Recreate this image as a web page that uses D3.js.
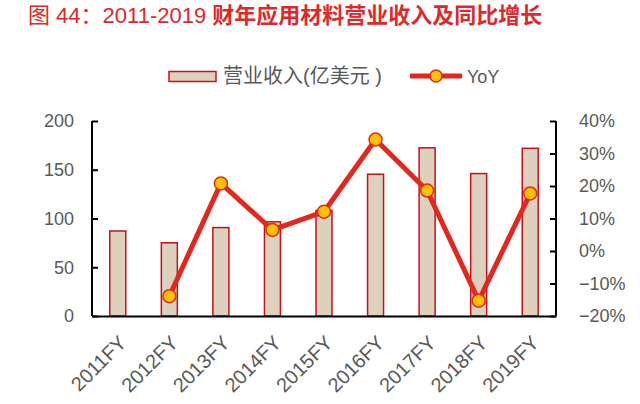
<!DOCTYPE html>
<html>
<head>
<meta charset="utf-8">
<script src="https://cdn.jsdelivr.net/npm/d3@7"></script>
<style>
    body { margin: 0; background: #fff; }
    svg { display: block; }
</style>
</head>
<body>
<div class="chart"></div>
<script>
// values
const years = ['2011FY', '2012FY', '2013FY', '2014FY', '2015FY', '2016FY', '2017FY', '2018FY', '2019FY'];
const revenue = [87.2, 75.1, 90.7, 96.6, 108.3, 145.4, 172.5, 146.1, 172.0];
const yoy = [null, -0.139, 0.208, 0.065, 0.121, 0.343, 0.186, -0.153, 0.177];
const leftTicks = [0, 50, 100, 150, 200];
const rightTicks = [-0.2, -0.1, 0, 0.1, 0.2, 0.3, 0.4];

const width = 640, height = 404;
const fontFamily = '"Liberation Sans", Arial, sans-serif';
const cjkFont = '"Liberation Sans", "Noto Sans CJK SC", sans-serif';
const gray = '#595959';

function draw_chart() {
    let svg = d3.select('.chart')
        .append('svg')
        .attr('width', width)
        .attr('height', height);

    let left = 92, right = 556, top = 121, bottom = 316;

    let x = d3.scaleBand()
        .domain(years)
        .range([left, right])
        .paddingInner(0.69)
        .paddingOuter(0.345);

    let y = d3.scaleLinear().domain([0, 200]).range([bottom, top]);
    let y2 = d3.scaleLinear().domain([-0.2, 0.4]).range([bottom, top]);

    // title
    let title = svg.append('text')
        .attr('x', 28)
        .attr('y', 23)
        .attr('fill', '#e0282a')
        .attr('font-size', 22)
        .attr('font-family', cjkFont);
    title.append('tspan').text('图 44：2011-2019 ');
    title.append('tspan').attr('font-weight', 'bold').text('财年应用材料营业收入及同比增长');

    // bars
    svg.append('g')
        .selectAll('rect')
        .data(revenue)
        .join('rect')
        .attr('x', (d, i) => x(years[i]))
        .attr('y', d => y(d))
        .attr('width', x.bandwidth())
        .attr('height', d => y(0) - y(d))
        .attr('fill', '#ddd1bd')
        .attr('stroke', '#c8101a')
        .attr('stroke-width', 1.5);

    // axes
    let axisL = svg.append('g')
        .attr('transform', `translate(${left},0)`)
        .call(d3.axisLeft(y).tickValues(leftTicks).tickSize(-6).tickPadding(18));
    let axisR = svg.append('g')
        .attr('transform', `translate(${right},0)`)
        .call(d3.axisRight(y2).tickValues(rightTicks).tickSize(-6).tickPadding(23)
            .tickFormat(d3.format('.0%')));
    let axisB = svg.append('g')
        .attr('transform', `translate(0,${bottom})`)
        .call(d3.axisBottom(x).tickSize(0).tickPadding(0));

    [axisL, axisR, axisB].forEach(a => {
        a.select('.domain').attr('stroke', '#000').attr('stroke-width', 2);
        a.selectAll('.tick line').attr('stroke', '#000').attr('stroke-width', 2);
        a.selectAll('text')
            .attr('fill', gray)
            .attr('font-size', 18)
            .attr('font-family', fontFamily);
    });
    axisL.select('.domain').attr('d', `M0,${top}V${bottom}`);
    axisR.select('.domain').attr('d', `M0,${top}V${bottom}`);

    axisB.selectAll('.tick text')
        .attr('font-size', 20)
        .attr('text-anchor', 'end')
        .attr('dy', 0)
        .attr('transform', 'translate(10,28) rotate(-45)');

    // YoY line
    let pts = yoy.map((v, i) => [x(years[i]) + x.bandwidth() / 2, v]).filter(p => p[1] !== null);
    let line = d3.line()
        .x(d => d[0])
        .y(d => y2(d[1]));

    svg.append('path')
        .datum(pts)
        .attr('d', line)
        .attr('fill', 'none')
        .attr('stroke', '#e4261c')
        .attr('stroke-width', 5)
        .attr('stroke-linejoin', 'round');

    svg.append('g')
        .selectAll('circle')
        .data(pts)
        .join('circle')
        .attr('cx', d => d[0])
        .attr('cy', d => y2(d[1]))
        .attr('r', 6.5)
        .attr('fill', '#ffc000')
        .attr('stroke', '#e4261c')
        .attr('stroke-width', 1.5);

    // legend
    let legend = svg.append('g')
        .attr('font-family', cjkFont)
        .attr('fill', gray);
    legend.append('rect')
        .attr('x', 169).attr('y', 71.5)
        .attr('width', 47).attr('height', 10)
        .attr('fill', '#ddd1bd')
        .attr('stroke', '#c8101a')
        .attr('stroke-width', 1.5);
    legend.append('text')
        .attr('x', 223).attr('y', 83)
        .attr('font-size', 20)
        .text('营业收入(亿美元 )');
    legend.append('line')
        .attr('x1', 410).attr('x2', 462)
        .attr('y1', 76).attr('y2', 76)
        .attr('stroke', '#e4261c')
        .attr('stroke-width', 5);
    legend.append('circle')
        .attr('cx', 436).attr('cy', 76).attr('r', 6)
        .attr('fill', '#ffc000')
        .attr('stroke', '#e4261c')
        .attr('stroke-width', 1.5);
    legend.append('text')
        .attr('x', 467).attr('y', 83)
        .attr('font-size', 18)
        .text('YoY');
}

draw_chart();
</script>
</body>
</html>
